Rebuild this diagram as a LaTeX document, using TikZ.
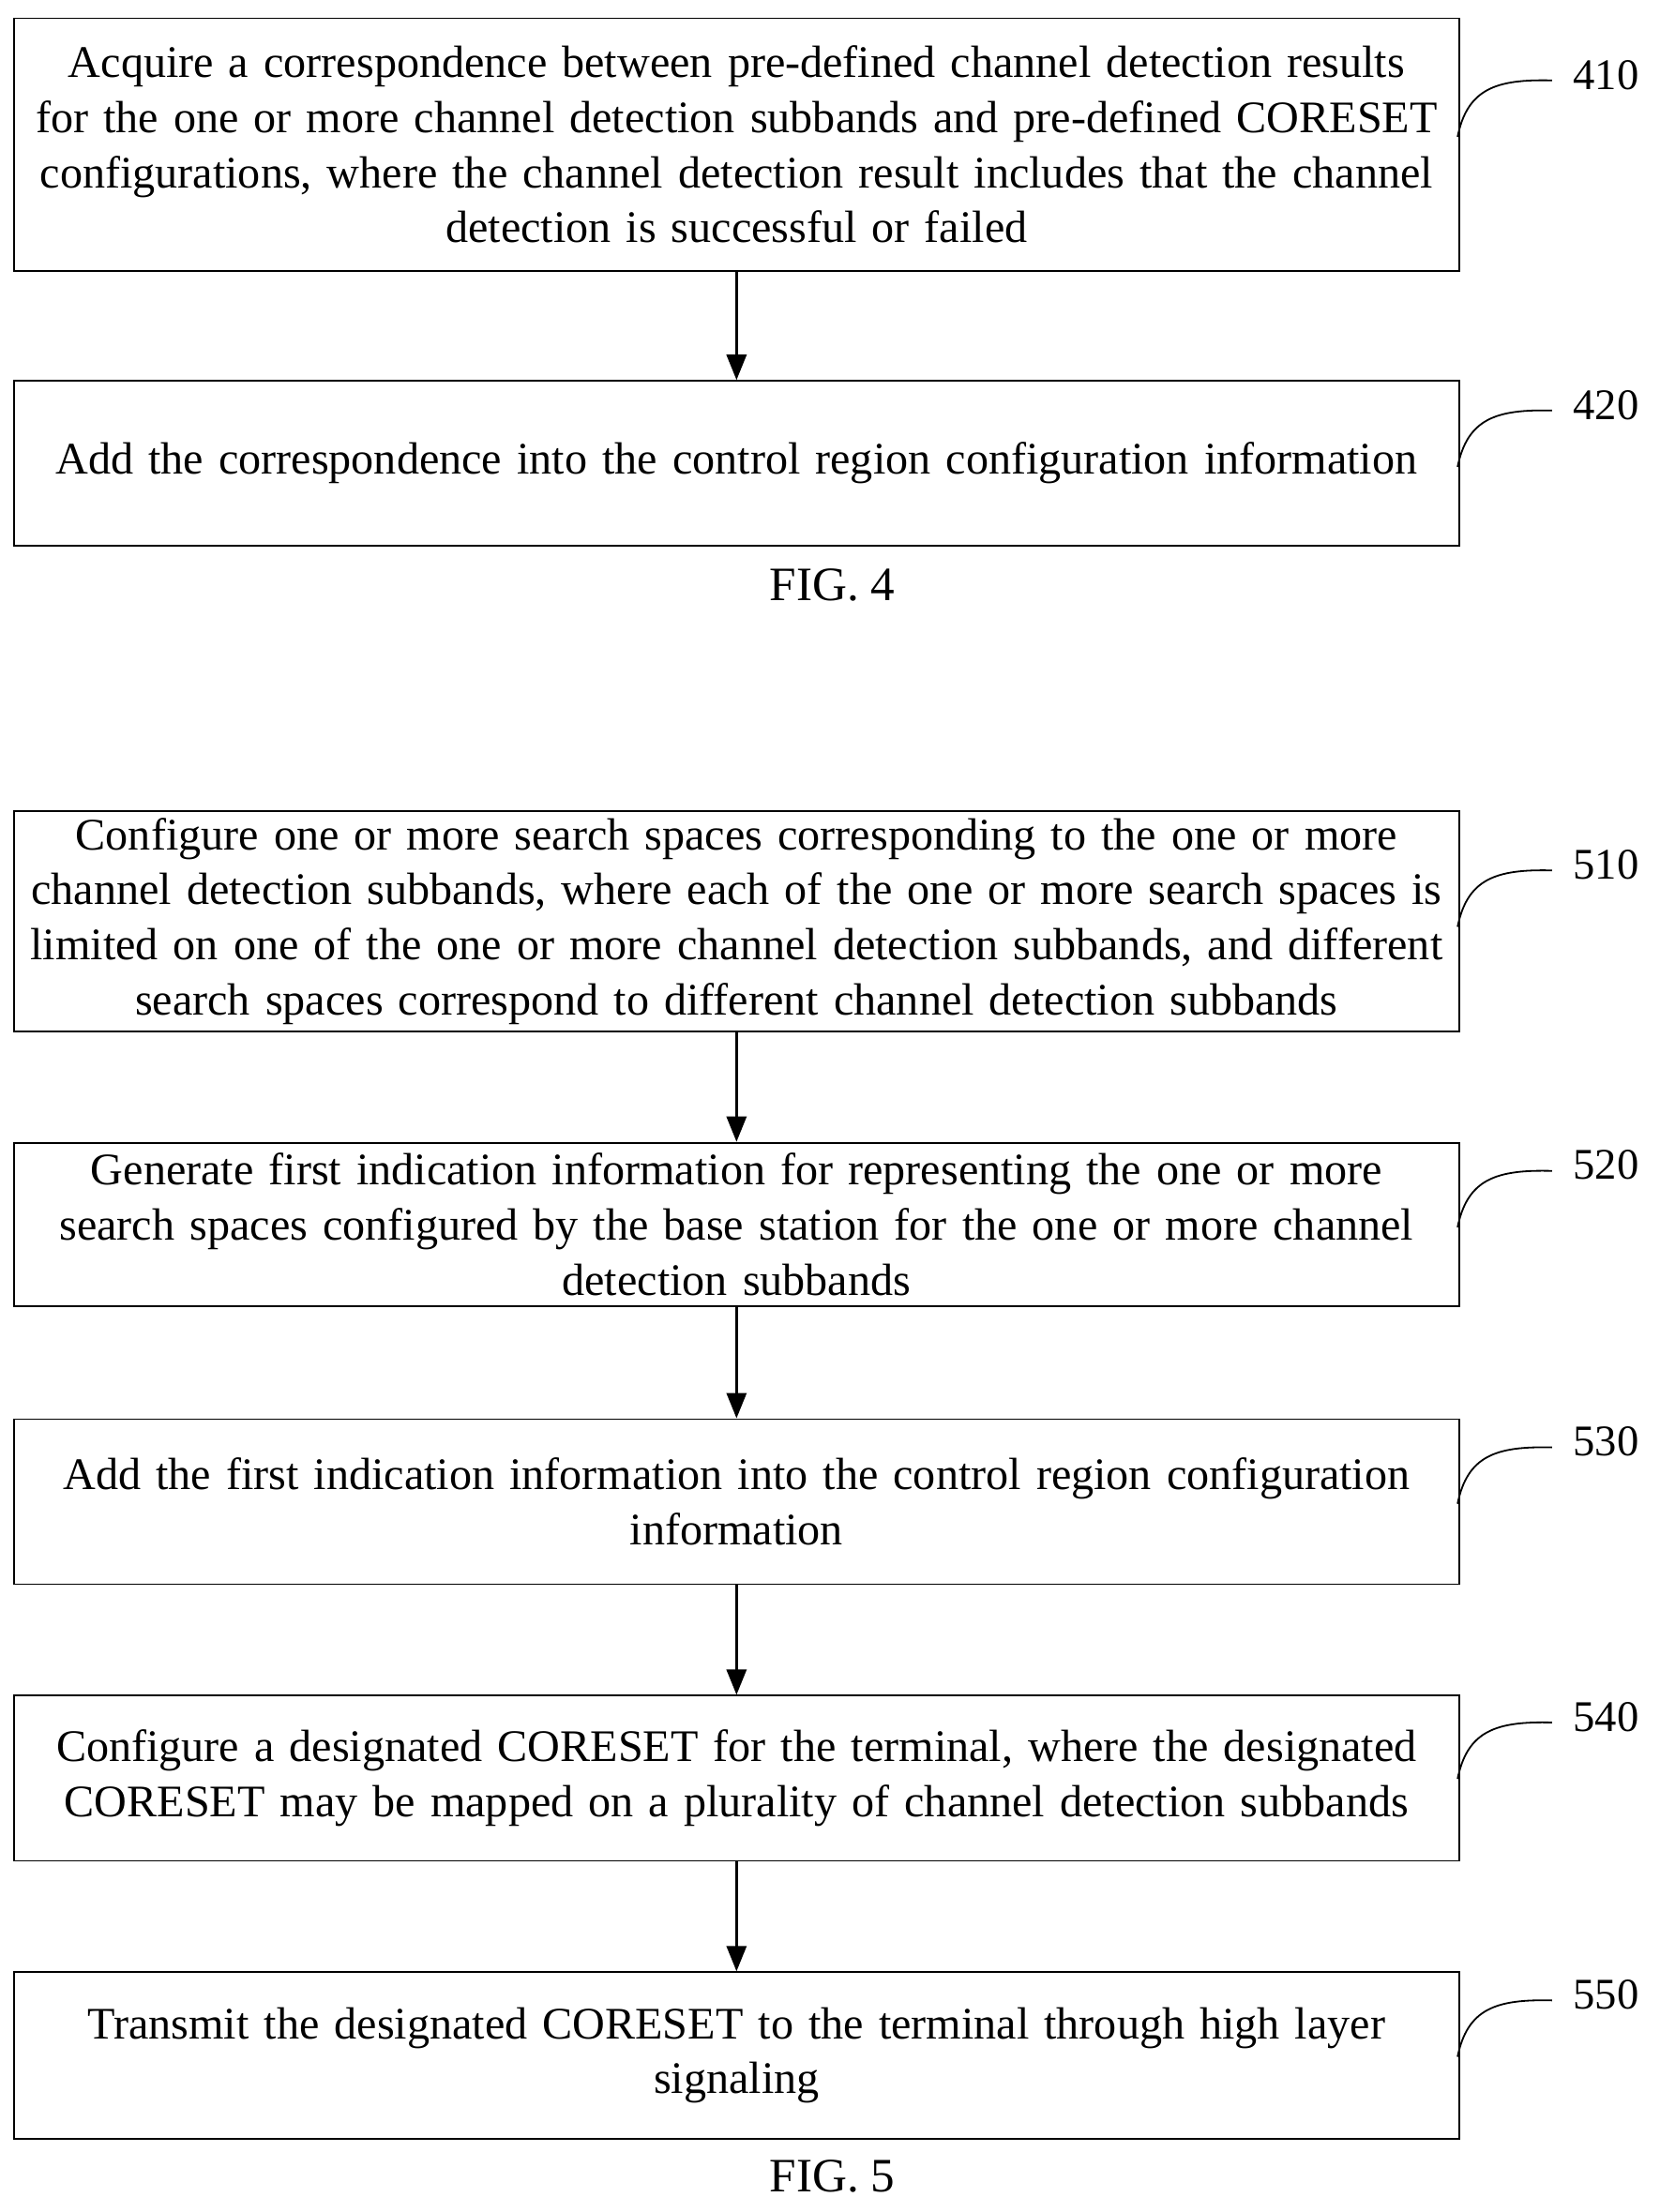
\documentclass[tikz,border=0pt]{standalone}
\usepackage{fontspec}
\setmainfont{Liberation Serif}
\usetikzlibrary{arrows.meta}
\begin{document}
\begin{tikzpicture}[x=0.5pt,y=-0.5pt,
 box/.style={draw,line width=0.6pt,minimum width=509pt,text width=512pt,align=center,inner sep=0pt,font=\fontsize{16}{19.5}\selectfont},
 lab/.style={font=\fontsize{15.5}{17}\selectfont,anchor=west},
 arr/.style={-{Triangle[length=9pt,width=7pt]},line width=1pt},
 cur/.style={line width=0.6pt}]
\useasboundingbox (0,0) rectangle (1176,1568);
\newcommand\bx[5]{\node[box,minimum height=#3*0.5pt-#2*0.5pt] (#1) at (522,{(#2+#3)/2}) {#4};
 \node[lab] (l#1) at (1108,{#2+#5}) {#1};
 \coordinate (c#1) at (1033,{#2+#5+44});
 \draw[cur] (c#1) .. controls (1040,{#2+#5+10}) and (1060,{#2+#5+3}) .. (1100,{#2+#5+4});}
\bx{410}{13}{192}{Acquire a correspondence between pre-defined channel detection results\\ for the one or more channel detection subbands and pre-defined CORESET\\ configurations, where the channel detection result includes that the channel\\ detection is successful or failed}{40}
\bx{420}{270}{387}{Add the correspondence into the control region configuration information}{17}
\node[font=\fontsize{17}{19}\selectfont] (f4) at (590,415) {FIG. 4};
\bx{510}{575}{731}{Configure one or more search spaces corresponding to the one or more\\ channel detection subbands, where each of the one or more search spaces is\\ limited on one of the one or more channel detection subbands, and different\\ search spaces correspond to different channel detection subbands}{38}
\bx{520}{810}{926}{Generate first indication information for representing the one or more\\ search spaces configured by the base station for the one or more channel\\ detection subbands}{16}
\bx{530}{1006}{1123}{Add the first indication information into the control region configuration\\ information}{16}
\bx{540}{1202}{1319}{Configure a designated CORESET for the terminal, where the designated\\ CORESET may be mapped on a plurality of channel detection subbands}{15}
\bx{550}{1398}{1516}{Transmit the designated CORESET to the terminal through high layer\\ signaling}{16}
\node[font=\fontsize{17}{19}\selectfont] (f5) at (590,1543) {FIG. 5};
\draw[arr] (410) -- (420);
\draw[arr] (510) -- (520);
\draw[arr] (520) -- (530);
\draw[arr] (530) -- (540);
\draw[arr] (540) -- (550);
\end{tikzpicture}
\end{document}
